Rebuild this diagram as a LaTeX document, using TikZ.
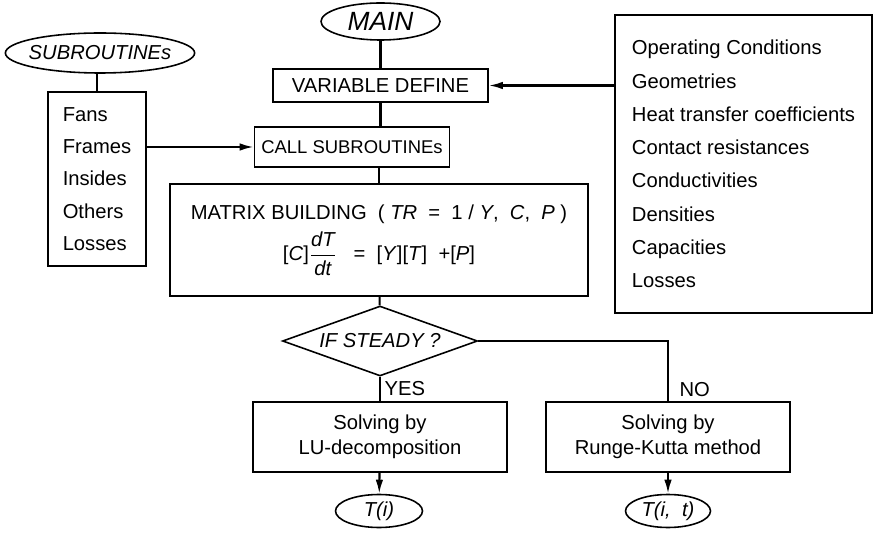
\documentclass[tikz,border=0pt]{standalone}
\usepackage{fontspec}
\setmainfont{Liberation Sans}
\setsansfont{Liberation Sans}
\usepackage{amsmath}
\usetikzlibrary{positioning,arrows.meta,shapes.geometric}

\begin{document}
\begin{tikzpicture}[
  font=\sffamily\fontsize{11.5}{14}\selectfont,
  box/.style={draw, line width=0.9pt, align=center, inner sep=3pt},
  oval/.style={draw, line width=0.9pt, ellipse, inner sep=1pt, font=\sffamily\itshape\fontsize{11.5}{14}\selectfont},
  list/.style={draw, line width=0.9pt, align=left, inner sep=0pt},
  cond/.style={draw, line width=0.9pt, diamond, aspect=2.8, inner sep=0pt, font=\sffamily\itshape\fontsize{11.5}{14}\selectfont},
  line/.style={line width=1.2pt},
  arr/.style={-{Latex[length=2.8mm,width=1.5mm]}, line width=1.2pt},
  lab/.style={font=\sffamily\fontsize{11.5}{14}\selectfont, inner sep=1pt, anchor=west},
]
  \useasboundingbox (0,0) rectangle (17.5,-10.72);
  % main flow
  \node[oval, inner ysep=0pt, minimum width=2.38cm, minimum height=0.74cm, font=\sffamily\itshape\fontsize{15}{17}\selectfont] (main) at (7.61,-0.43) {MAIN};
  \node[box, minimum width=4.30cm, minimum height=0.66cm] (vardef) at (7.61,-1.71) {VARIABLE DEFINE};
  \node[box, minimum width=3.90cm, minimum height=0.80cm, font=\sffamily\fontsize{10.5}{13}\selectfont] (callsub) at (7.04,-2.94) {CALL SUBROUTINEs};
  \node[box, minimum width=8.36cm, minimum height=2.24cm] (matrix) at (7.58,-4.80)
    {MATRIX BUILDING\ \ ( \textit{TR}\ \ =\ \ 1 / \textit{Y},\ \ \textit{C},\ \ \textit{P} )\\[4pt]
     [\textit{C}]$\dfrac{\textit{dT}}{\textit{dt}}$\ \ \ =\ \ [\textit{Y}][\textit{T}]\ \ +[\textit{P}]};
  \node[cond, minimum width=3.90cm, minimum height=1.40cm] (steady) at (7.60,-6.82) {IF STEADY ?};
  % solvers
  \node[box, minimum width=5.08cm, minimum height=1.40cm] (lu) at (7.60,-8.74) {Solving by\\LU-decomposition};
  \node[box, minimum width=4.88cm, minimum height=1.40cm] (rk) at (13.36,-8.74) {Solving by\\Runge-Kutta method};
  \node[oval, minimum width=1.74cm, minimum height=0.66cm] (ti) at (7.58,-10.22) {T(i)};
  \node[oval, minimum width=1.70cm, minimum height=0.66cm] (tit) at (13.36,-10.22) {T(i,\ \ t)};
  % subroutines
  \node[oval, inner xsep=-2.5pt, minimum width=3.70cm, minimum height=0.80cm] (subsell) at (2.00,-1.06) {SUBROUTINEs};
  \node[list, minimum width=1.96cm, minimum height=3.48cm, font=\sffamily\fontsize{11.5}{18.3}\selectfont] (subs) at (1.94,-3.58)
    {Fans\\Frames\\Insides\\Others\\Losses};
  % input data
  \node[list, minimum width=5.14cm, minimum height=5.96cm, font=\sffamily\fontsize{11.5}{18.9}\selectfont] (params) at (14.87,-3.28)
    {Operating Conditions\\Geometries\\Heat transfer coefficients\\Contact resistances\\
     Conductivities\\Densities\\Capacities\\Losses};
  % connectors
  \draw[line] (main) -- (vardef);
  \draw[line] (vardef.south) -- (vardef.south |- callsub.north);
  \draw[line] (callsub.south -| matrix.north) -- (matrix.north);
  \draw[line] (matrix) -- (steady);
  \draw[line] (steady.south) -- node[lab, pos=0.5, xshift=1pt]{YES} (lu.north);
  \draw[line] (steady.east) -| node[lab, pos=0.9, xshift=5pt]{NO} (rk.north);
  \draw[arr] (lu) -- (ti);
  \draw[arr] (rk) -- (tit);
  \draw[line] (subs.north |- subsell.south) -- (subs.north);
  \draw[arr] (subs.east |- callsub) -- (callsub.west);
  \draw[arr] (params.west |- vardef) -- (vardef.east);
\end{tikzpicture}
\end{document}
